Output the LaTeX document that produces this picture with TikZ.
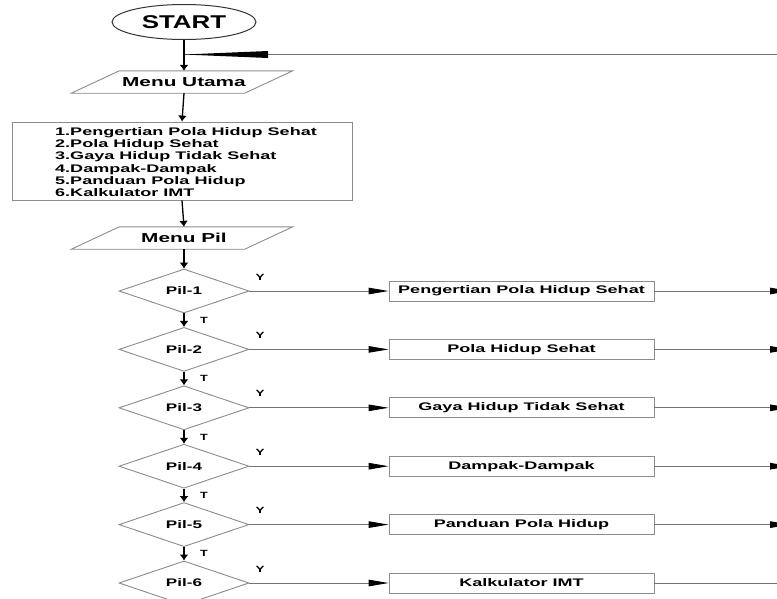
\documentclass[tikz,border=0pt]{standalone}
\usepackage{graphicx}
\usepackage{fontspec}
\setmainfont{Liberation Sans}
\usetikzlibrary{shapes.geometric,arrows.meta}
\newcommand\wx[2]{\scalebox{#1}[1]{#2}}
\definecolor{edgegray}{gray}{0.55}
\definecolor{linegray}{gray}{0.45}
\begin{document}
\begin{tikzpicture}[x=1pt,y=-1pt,
  vline/.style={draw=black, line width=1.3pt, -{Latex[length=6pt,width=9pt]}},
  hline/.style={draw=linegray, line width=0.9pt, -{Triangle[length=20pt,width=6.5pt,color=black]}},
  plainline/.style={draw=linegray, line width=0.9pt},
  boxstyle/.style={draw=edgegray, line width=0.9pt, minimum width=265pt, minimum height=20pt, inner sep=0pt, font=\fontsize{11}{12}\selectfont\bfseries},
  dia/.style={diamond, draw=edgegray, line width=0.9pt, minimum width=130pt, minimum height=34pt, inner sep=0pt, font=\fontsize{11}{12}\selectfont\bfseries},
  lbl/.style={font=\fontsize{9}{10}\selectfont\bfseries, inner sep=0pt},
  io/.style={minimum width=173pt, minimum height=22pt, inner sep=0pt, font=\fontsize{13}{14}\selectfont\bfseries}
]
\clip (0,0) rectangle (777,598);
\fill[white] (0,0) rectangle (777,598);

% start
\node[ellipse, draw=black!80, line width=1pt, minimum width=144pt, minimum height=35pt, inner sep=0pt,
      font=\fontsize{18.5}{20}\selectfont\bfseries] (start) at (184,22) {\wx{1.4}{START}};

% menu utama
\node[io] (mu) at (184,82) {\wx{1.6}{Menu Utama}};
\draw[edgegray, line width=0.9pt] ([xshift=22pt]mu.north west) -- ([xshift=22pt]mu.north east)
  -- ([xshift=-26pt]mu.south east) -- ([xshift=-26pt]mu.south west) -- cycle;

% list box
\node[draw=edgegray, line width=0.9pt, minimum width=340pt, minimum height=78pt, inner sep=0pt] (list) at (182,161) {};
\node[anchor=west, align=left, inner sep=0pt, font=\fontsize{11}{12.2}\selectfont\bfseries] (listtxt) at (55,162)
 {\wx{1.64}{1.Pengertian Pola Hidup Sehat}\\
  \wx{1.64}{2.Pola Hidup Sehat}\\
  \wx{1.64}{3.Gaya Hidup Tidak Sehat}\\
  \wx{1.64}{4.Dampak-Dampak}\\
  \wx{1.64}{5.Panduan Pola Hidup}\\
  \wx{1.64}{6.Kalkulator IMT}};

% menu pil
\node[io] (mp) at (184,238) {\wx{1.6}{Menu Pil}};
\draw[edgegray, line width=0.9pt] ([xshift=22pt]mp.north west) -- ([xshift=22pt]mp.north east)
  -- ([xshift=-26pt]mp.south east) -- ([xshift=-26pt]mp.south west) -- cycle;

% return line with long wedge
\coordinate (j) at (184,54.5);
\coordinate (rt) at (790,54.5);
\coordinate (wa) at (268,51);
\coordinate (wb) at (268,58);
\draw[plainline] (rt) -- (j);
\fill[black] (j) -- (wa) -- (wb) -- cycle;

\draw[vline] (start.south) -- (mu.north);
\draw[vline] (mu.south) -- (list.north);
\draw[vline] (list.south) -- (mp.north);

% diamonds and boxes
\foreach \i/\t in {1/Pengertian Pola Hidup Sehat,2/Pola Hidup Sehat,3/Gaya Hidup Tidak Sehat,4/Dampak-Dampak,5/Panduan Pola Hidup,6/Kalkulator IMT}{
  \pgfmathsetmacro\yy{291+58.4*(\i-1)}
  \node[dia] (d\i) at (184,\yy) {\wx{1.55}{Pil-\i}};
  \node[boxstyle] (b\i) at (521.5,\yy) {\wx{1.64}{\t}};
  \node[lbl] (y\i) at (260,\yy-14) {\wx{1.5}{Y}};
  \coordinate (e\i) at (790,\yy);
  \draw[hline] (d\i.east) -- (b\i.west);
}
\foreach \i in {1,...,5}{
  \draw[hline] (b\i.east) -- (e\i);
}
\draw[plainline] (b6.east) -- (e6);

\draw[vline] (mp.south) -- (d1.north);
\foreach \i/\n in {1/2,2/3,3/4,4/5,5/6}{
  \draw[vline] (d\i.south) -- (d\n.north) node[lbl, midway, xshift=20pt] (t\i) {\wx{1.4}{T}};
}
\end{tikzpicture}
\end{document}
